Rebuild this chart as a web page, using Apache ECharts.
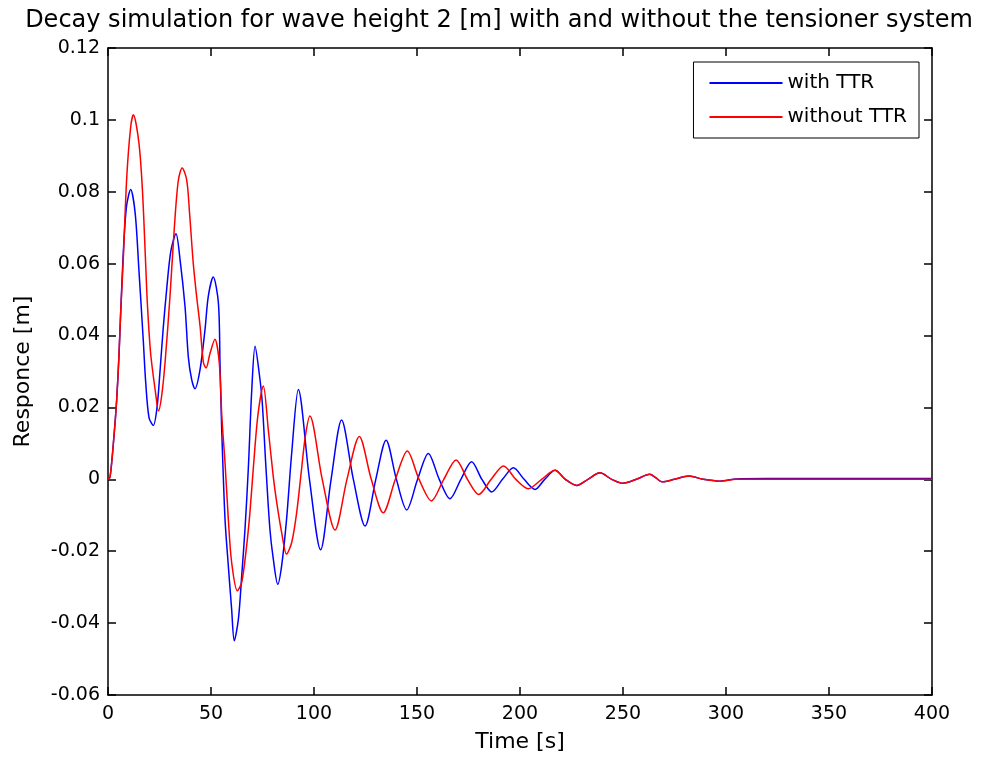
<!DOCTYPE html>
<html>
<head>
<meta charset="utf-8">
<title>Decay simulation</title>
<script src="https://cdn.jsdelivr.net/npm/echarts@6/dist/echarts.min.js"></script>
<style>
  html, body { margin: 0; padding: 0; background: #fff; }
  #decay { width: 998px; height: 767px; }
</style>
</head>
<body>
<div id="decay"></div>
<script>
/* jshint esversion: 6 */
// =====================================================================================================================
// Data
let timeWith = [0, 1, 2.9, 4.2, 5.3, 6.2, 7.6, 9, 11, 13.2, 15, 17.1, 18.3, 19.9, 22, 23.8, 25.2, 26.8, 28.5, 30.5,
  33, 35, 37.4, 39, 40.6, 42.2, 44.7, 47.1, 48.7, 51.1, 53.6, 54.4, 55.2, 56.8, 58.4, 60, 61.3, 63.3, 64.9, 66.5,
  68.1, 69.8, 71.4, 73.3, 74.8, 76.6, 78.6, 80.2, 82.4, 84.3, 86.7, 89.2, 92.4, 97.8, 103.2, 108.3, 113.4, 119.1,
  124.8, 130, 135, 140, 145, 150.3, 155.5, 160.8, 166, 171.3, 176.5, 181.5, 186.3, 191.5, 196.8, 202, 207.3, 212,
  217, 222, 227.5, 233, 238.8, 244.5, 250, 256.5, 263, 266, 269, 275, 282, 289, 297, 305, 320, 340, 360, 380, 400];
let respWith = [0, 0.0006, 0.012, 0.022, 0.034, 0.047, 0.065, 0.076, 0.0806, 0.074, 0.0583, 0.0389, 0.027, 0.0172,
  0.015, 0.020, 0.0297, 0.042, 0.053, 0.0635, 0.0683, 0.061, 0.048, 0.034, 0.0278, 0.0252, 0.0306, 0.0417, 0.051,
  0.0563, 0.049, 0.0315, 0.0139, -0.011, -0.024, -0.036, -0.0449, -0.0389, -0.0269, -0.0139, 0.0028, 0.025, 0.037,
  0.030, 0.022, 0.004, -0.0139, -0.022, -0.0292, -0.024, -0.011, 0.0075, 0.025, 0, -0.0196, 0, 0.0165, 0, -0.013,
  0, 0.0109, 0, -0.0085, 0, 0.0072, 0, -0.0054, 0, 0.0049, 0, -0.0035, 0, 0.0032, 0, -0.0028, 0, 0.0025, 0,
  -0.0017, 0, 0.0018, 0, -0.0011, 0, 0.0014, 0.0004, -0.0007, 0, 0.0009, 0, -0.0005, 0.0001, 0.0002, 0.0002,
  0.0002, 0.0002, 0.0002];

let timeWithout = [0, 1, 2.9, 4.2, 5.3, 6.2, 7.4, 9.1, 11, 12.3, 15, 16.7, 18.3, 19.1, 20.7, 23.1, 24.5, 26, 27.7,
  30.1, 32.2, 34.1, 36, 38.2, 39.6, 41.4, 43, 44.7, 46.3, 47.6, 49.5, 51.9, 54, 55.3, 56.8, 58.4, 60, 62.8, 64.9,
  67.3, 68.9, 70.5, 72.8, 75.4, 77.8, 80.2, 81.9, 84.3, 86.7, 89.2, 91.6, 93.8, 95.8, 98, 104, 110.2, 116, 122,
  127.8, 133.6, 139.5, 145.3, 151, 157, 163, 169, 174.5, 180, 186, 192, 198, 204, 210.5, 217, 222, 227.5, 233,
  238.8, 244.5, 250, 256.5, 263, 266, 269, 275, 282, 289, 297, 305, 320, 340, 360, 380, 400];
let respWithout = [0, 0.0006, 0.012, 0.022, 0.0343, 0.047, 0.061, 0.084, 0.098, 0.1014, 0.0936, 0.0806, 0.0597,
  0.049, 0.035, 0.024, 0.019, 0.023, 0.0325, 0.051, 0.070, 0.083, 0.0866, 0.0833, 0.074, 0.060, 0.051, 0.0426,
  0.0325, 0.031, 0.035, 0.039, 0.0325, 0.017, 0.0047, -0.011, -0.023, -0.031, -0.0287, -0.0185, -0.0092, 0.0028,
  0.018, 0.026, 0.0139, 0.0009, -0.0064, -0.0148, -0.0208, -0.0175, -0.0092, 0.002, 0.012, 0.0176, 0, -0.0141, 0,
  0.0119, 0, -0.0093, 0, 0.0079, 0, -0.006, 0, 0.0054, 0, -0.0042, 0, 0.0037, 0, -0.0026, 0, 0.0025, 0, -0.0017,
  0, 0.0018, 0, -0.0011, 0, 0.0014, 0.0004, -0.0007, 0, 0.0009, 0, -0.0005, 0, 0, 0, 0, 0, 0];

let xTicks = [0, 400, 50];
let yTicks = [-0.06, 0.12, 0.02];

function pairs(xs, ys) {
  'use strict';
  return xs.map(function (x, i) {
    return [x, ys[i]];
  });
}

// =====================================================================================================================
let font = 'DejaVu Sans';
let ink = '#000';

let axisLine = { show: true, onZero: false, lineStyle: { color: ink, width: 1.5 } };
let axisTick = { show: true, inside: true, length: 8, lineStyle: { color: ink, width: 1.5 } };

let domDecay = document.getElementById('decay');
let chartDecay = echarts.init(domDecay);
let optionDecay = {
  animation: false,
  backgroundColor: '#fff',
  title: {
    text: 'Decay simulation for wave height 2 [m] with and without the tensioner system',
    left: 'center',
    top: 4,
    textStyle: { fontFamily: font, fontSize: 24, fontWeight: 'normal', color: ink }
  },
  grid: { left: 108, right: 66, top: 48, bottom: 72 },
  legend: {
    data: ['with TTR', 'without TTR'],
    orient: 'vertical',
    right: 79,
    top: 62,
    icon: 'rect',
    backgroundColor: '#fff',
    borderColor: ink,
    borderWidth: 1,
    borderRadius: 0,
    padding: [10, 12, 10, 16],
    itemWidth: 73,
    itemHeight: 2,
    itemGap: 12,
    textStyle: { fontFamily: font, fontSize: 20, color: ink, lineHeight: 22 }
  },
  xAxis: [
    {
      type: 'value',
      min: xTicks[0],
      max: xTicks[1],
      interval: xTicks[2],
      position: 'bottom',
      name: 'Time [s]',
      nameLocation: 'middle',
      nameGap: 36,
      nameTextStyle: { fontFamily: font, fontSize: 22, color: ink },
      axisLine: axisLine,
      axisTick: axisTick,
      axisLabel: { fontFamily: font, fontSize: 19, color: ink, margin: 10 },
      splitLine: { show: false }
    },
    {
      type: 'value',
      min: xTicks[0],
      max: xTicks[1],
      interval: xTicks[2],
      position: 'top',
      axisLine: axisLine,
      axisTick: axisTick,
      axisLabel: { show: false },
      splitLine: { show: false }
    }
  ],
  yAxis: [
    {
      type: 'value',
      min: yTicks[0],
      max: yTicks[1],
      interval: yTicks[2],
      position: 'left',
      name: 'Responce [m]',
      nameLocation: 'middle',
      nameGap: 74,
      nameTextStyle: { fontFamily: font, fontSize: 22, color: ink },
      axisLine: axisLine,
      axisTick: axisTick,
      axisLabel: { fontFamily: font, fontSize: 19, color: ink, margin: 8 },
      splitLine: { show: false }
    },
    {
      type: 'value',
      min: yTicks[0],
      max: yTicks[1],
      interval: yTicks[2],
      position: 'right',
      axisLine: axisLine,
      axisTick: axisTick,
      axisLabel: { show: false },
      splitLine: { show: false }
    }
  ],
  series: [
    {
      name: 'with TTR',
      type: 'line',
      data: pairs(timeWith, respWith),
      symbol: 'none',
      smooth: 0.3,
      lineStyle: { color: '#0000ff', width: 1.5 },
      itemStyle: { color: '#0000ff' }
    },
    {
      name: 'without TTR',
      type: 'line',
      data: pairs(timeWithout, respWithout),
      symbol: 'none',
      smooth: 0.3,
      lineStyle: { color: '#ff0000', width: 1.5 },
      itemStyle: { color: '#ff0000' }
    }
  ]
};

optionDecay && chartDecay.setOption(optionDecay);
</script>
</body>
</html>
